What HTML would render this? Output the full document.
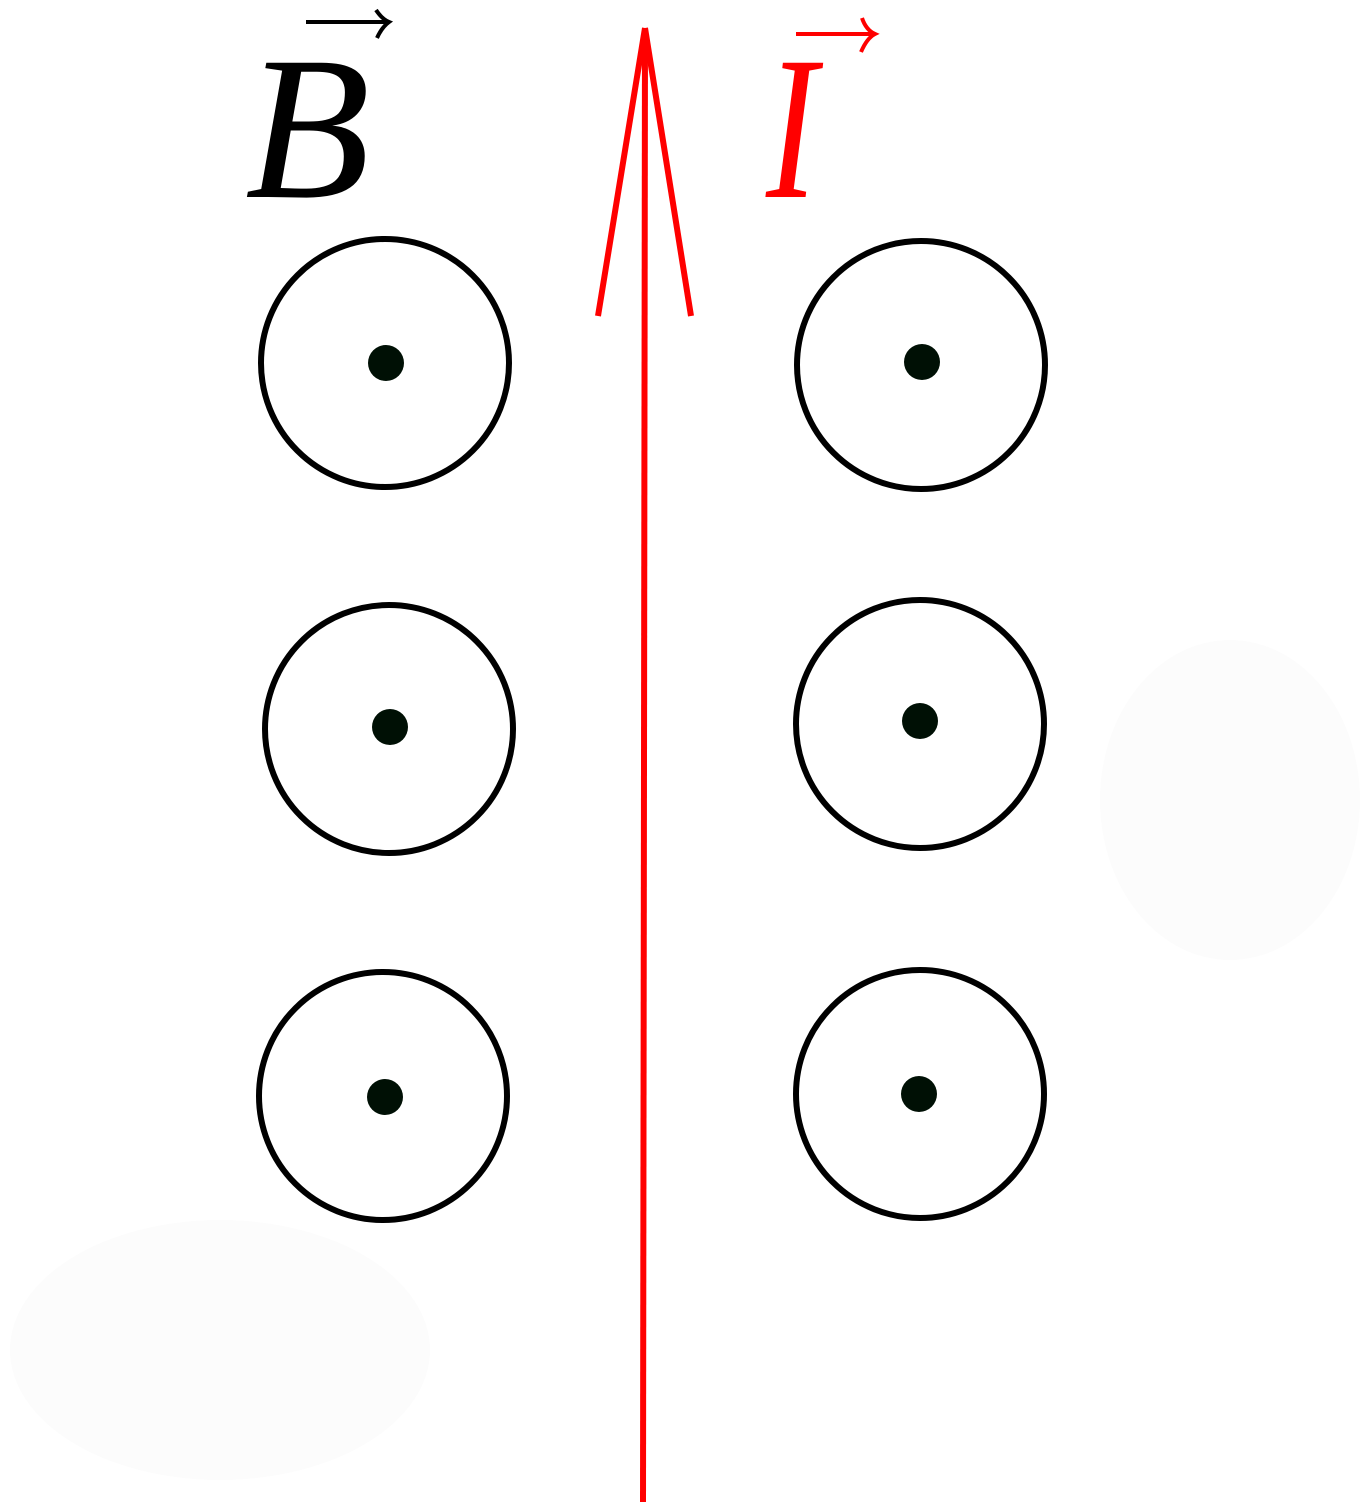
<!DOCTYPE html>
<html><head><style>html,body{margin:0;padding:0;background:#fff}
.t{font-family:"Liberation Serif",serif;font-style:italic;font-size:205px}</style></head>
<body>
<svg width="1361" height="1503" viewBox="0 0 1361 1503" xmlns="http://www.w3.org/2000/svg">
<rect width="1361" height="1503" fill="#fff"/>
<g fill="#fcfcfc">
<ellipse cx="220" cy="1350" rx="210" ry="130"/>
<ellipse cx="1230" cy="800" rx="130" ry="160"/>
</g>
<text x="245" y="197" class="t" fill="#000">B</text>
<path d="M306 22 L388 22 M376 10 Q382 19 389 22 Q382 27 377 38" stroke="#000" stroke-width="4" fill="none"/>
<text transform="translate(766,197) scale(0.75,1)" x="0" y="0" class="t" fill="#f00">I</text>
<path d="M796 34 L874 34 M862 18 Q866 30 875 34 Q867 38 861 52" stroke="#f00" stroke-width="4" fill="none"/>
<g stroke="#f00" stroke-width="6" fill="none">
<line x1="645" y1="28" x2="643" y2="1502"/>
<line x1="645" y1="28" x2="598" y2="316"/>
<line x1="645" y1="28" x2="691" y2="316"/>
</g>
<g stroke="#000" stroke-width="6" fill="none">
<circle cx="385" cy="363" r="124"/>
<circle cx="389" cy="729" r="124"/>
<circle cx="383" cy="1096" r="124"/>
<circle cx="921" cy="365" r="124"/>
<circle cx="920" cy="724" r="124"/>
<circle cx="920" cy="1094" r="124"/>
</g>
<g fill="#001005">
<circle cx="386" cy="363" r="18"/>
<circle cx="390" cy="727" r="18"/>
<circle cx="385" cy="1097" r="18"/>
<circle cx="922" cy="362" r="18"/>
<circle cx="920" cy="721" r="18"/>
<circle cx="919" cy="1094" r="18"/>
</g>
</svg>
</body></html>
